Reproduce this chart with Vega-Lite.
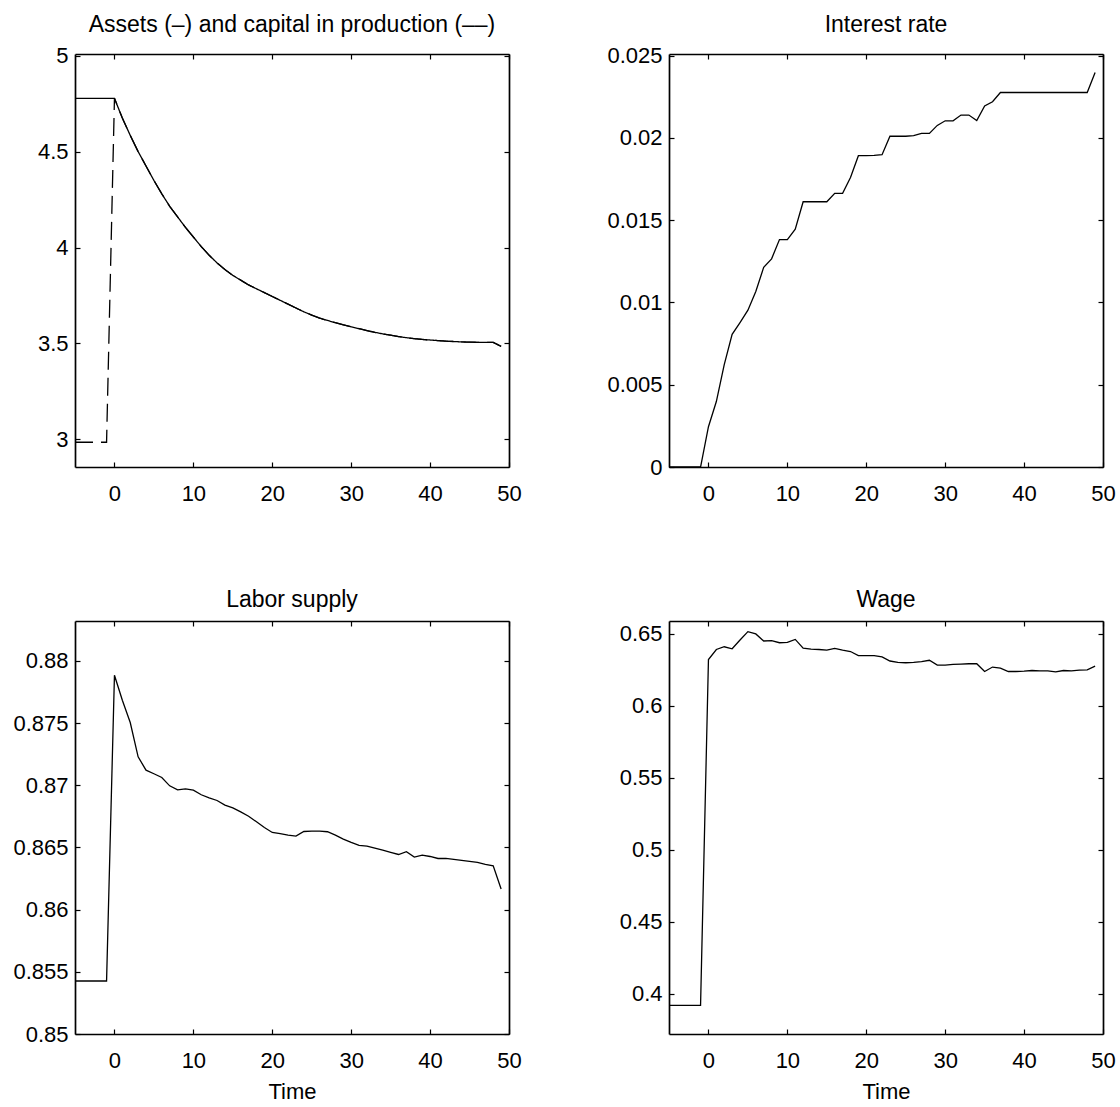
{
  "$schema": "https://vega.github.io/schema/vega-lite/v6.json",
  "autosize": {"type": "pad"},
  "padding": {"left": 12, "top": 13, "right": 5, "bottom": 5},
  "background": "white",
  "datasets": {
    "assets": [
      {"t": -5, "s": "Assets", "v": 4.778}, {"t": -4, "s": "Assets", "v": 4.778}, {"t": -3, "s": "Assets", "v": 4.778}, {"t": -2, "s": "Assets", "v": 4.778}, {"t": -1, "s": "Assets", "v": 4.778},
      {"t": 0, "s": "Assets", "v": 4.778}, {"t": 1, "s": "Assets", "v": 4.675}, {"t": 2, "s": "Assets", "v": 4.585}, {"t": 3, "s": "Assets", "v": 4.5}, {"t": 4, "s": "Assets", "v": 4.425},
      {"t": 5, "s": "Assets", "v": 4.35}, {"t": 6, "s": "Assets", "v": 4.28}, {"t": 7, "s": "Assets", "v": 4.215}, {"t": 8, "s": "Assets", "v": 4.16}, {"t": 9, "s": "Assets", "v": 4.105},
      {"t": 10, "s": "Assets", "v": 4.055}, {"t": 11, "s": "Assets", "v": 4.005}, {"t": 12, "s": "Assets", "v": 3.96}, {"t": 13, "s": "Assets", "v": 3.92}, {"t": 14, "s": "Assets", "v": 3.885},
      {"t": 15, "s": "Assets", "v": 3.855}, {"t": 16, "s": "Assets", "v": 3.83}, {"t": 17, "s": "Assets", "v": 3.805}, {"t": 18, "s": "Assets", "v": 3.785}, {"t": 19, "s": "Assets", "v": 3.765},
      {"t": 20, "s": "Assets", "v": 3.745}, {"t": 21, "s": "Assets", "v": 3.725}, {"t": 22, "s": "Assets", "v": 3.705}, {"t": 23, "s": "Assets", "v": 3.685}, {"t": 24, "s": "Assets", "v": 3.665},
      {"t": 25, "s": "Assets", "v": 3.648}, {"t": 26, "s": "Assets", "v": 3.632}, {"t": 27, "s": "Assets", "v": 3.62}, {"t": 28, "s": "Assets", "v": 3.608}, {"t": 29, "s": "Assets", "v": 3.597},
      {"t": 30, "s": "Assets", "v": 3.587}, {"t": 31, "s": "Assets", "v": 3.577}, {"t": 32, "s": "Assets", "v": 3.567}, {"t": 33, "s": "Assets", "v": 3.558}, {"t": 34, "s": "Assets", "v": 3.55},
      {"t": 35, "s": "Assets", "v": 3.543}, {"t": 36, "s": "Assets", "v": 3.536}, {"t": 37, "s": "Assets", "v": 3.53}, {"t": 38, "s": "Assets", "v": 3.525}, {"t": 39, "s": "Assets", "v": 3.521},
      {"t": 40, "s": "Assets", "v": 3.518}, {"t": 41, "s": "Assets", "v": 3.515}, {"t": 42, "s": "Assets", "v": 3.512}, {"t": 43, "s": "Assets", "v": 3.51}, {"t": 44, "s": "Assets", "v": 3.508},
      {"t": 45, "s": "Assets", "v": 3.507}, {"t": 46, "s": "Assets", "v": 3.506}, {"t": 47, "s": "Assets", "v": 3.506}, {"t": 48, "s": "Assets", "v": 3.506}, {"t": 49, "s": "Assets", "v": 3.485},
      {"t": -5, "s": "Capital", "v": 2.985}, {"t": -4, "s": "Capital", "v": 2.985}, {"t": -3, "s": "Capital", "v": 2.985}, {"t": -2, "s": "Capital", "v": 2.985}, {"t": -1, "s": "Capital", "v": 2.985},
      {"t": 0, "s": "Capital", "v": 4.778}, {"t": 1, "s": "Capital", "v": 4.675}, {"t": 2, "s": "Capital", "v": 4.585}, {"t": 3, "s": "Capital", "v": 4.5}, {"t": 4, "s": "Capital", "v": 4.425},
      {"t": 5, "s": "Capital", "v": 4.35}, {"t": 6, "s": "Capital", "v": 4.28}, {"t": 7, "s": "Capital", "v": 4.215}, {"t": 8, "s": "Capital", "v": 4.16}, {"t": 9, "s": "Capital", "v": 4.105},
      {"t": 10, "s": "Capital", "v": 4.055}, {"t": 11, "s": "Capital", "v": 4.005}, {"t": 12, "s": "Capital", "v": 3.96}, {"t": 13, "s": "Capital", "v": 3.92}, {"t": 14, "s": "Capital", "v": 3.885},
      {"t": 15, "s": "Capital", "v": 3.855}, {"t": 16, "s": "Capital", "v": 3.83}, {"t": 17, "s": "Capital", "v": 3.805}, {"t": 18, "s": "Capital", "v": 3.785}, {"t": 19, "s": "Capital", "v": 3.765},
      {"t": 20, "s": "Capital", "v": 3.745}, {"t": 21, "s": "Capital", "v": 3.725}, {"t": 22, "s": "Capital", "v": 3.705}, {"t": 23, "s": "Capital", "v": 3.685}, {"t": 24, "s": "Capital", "v": 3.665},
      {"t": 25, "s": "Capital", "v": 3.648}, {"t": 26, "s": "Capital", "v": 3.632}, {"t": 27, "s": "Capital", "v": 3.62}, {"t": 28, "s": "Capital", "v": 3.608}, {"t": 29, "s": "Capital", "v": 3.597},
      {"t": 30, "s": "Capital", "v": 3.587}, {"t": 31, "s": "Capital", "v": 3.577}, {"t": 32, "s": "Capital", "v": 3.567}, {"t": 33, "s": "Capital", "v": 3.558}, {"t": 34, "s": "Capital", "v": 3.55},
      {"t": 35, "s": "Capital", "v": 3.543}, {"t": 36, "s": "Capital", "v": 3.536}, {"t": 37, "s": "Capital", "v": 3.53}, {"t": 38, "s": "Capital", "v": 3.525}, {"t": 39, "s": "Capital", "v": 3.521},
      {"t": 40, "s": "Capital", "v": 3.518}, {"t": 41, "s": "Capital", "v": 3.515}, {"t": 42, "s": "Capital", "v": 3.512}, {"t": 43, "s": "Capital", "v": 3.51}, {"t": 44, "s": "Capital", "v": 3.508},
      {"t": 45, "s": "Capital", "v": 3.507}, {"t": 46, "s": "Capital", "v": 3.506}, {"t": 47, "s": "Capital", "v": 3.506}, {"t": 48, "s": "Capital", "v": 3.506}, {"t": 49, "s": "Capital", "v": 3.485}
    ],
    "interest": [
      {"t": -5, "v": 0}, {"t": -4, "v": 0}, {"t": -3, "v": 0}, {"t": -2, "v": 0}, {"t": -1, "v": 0},
      {"t": 0, "v": 0.00245}, {"t": 1, "v": 0.00398}, {"t": 2, "v": 0.00622}, {"t": 3, "v": 0.00806}, {"t": 4, "v": 0.00878},
      {"t": 5, "v": 0.00953}, {"t": 6, "v": 0.01067}, {"t": 7, "v": 0.01214}, {"t": 8, "v": 0.01265}, {"t": 9, "v": 0.01382},
      {"t": 10, "v": 0.01382}, {"t": 11, "v": 0.01445}, {"t": 12, "v": 0.01612}, {"t": 13, "v": 0.01612}, {"t": 14, "v": 0.01612},
      {"t": 15, "v": 0.01612}, {"t": 16, "v": 0.01663}, {"t": 17, "v": 0.01663}, {"t": 18, "v": 0.01759}, {"t": 19, "v": 0.01892},
      {"t": 20, "v": 0.01892}, {"t": 21, "v": 0.01894}, {"t": 22, "v": 0.01898}, {"t": 23, "v": 0.0201}, {"t": 24, "v": 0.0201},
      {"t": 25, "v": 0.0201}, {"t": 26, "v": 0.02014}, {"t": 27, "v": 0.02027}, {"t": 28, "v": 0.02027}, {"t": 29, "v": 0.02076},
      {"t": 30, "v": 0.02104}, {"t": 31, "v": 0.02104}, {"t": 32, "v": 0.02139}, {"t": 33, "v": 0.02139}, {"t": 34, "v": 0.02106},
      {"t": 35, "v": 0.02194}, {"t": 36, "v": 0.0222}, {"t": 37, "v": 0.02276}, {"t": 38, "v": 0.02276}, {"t": 39, "v": 0.02276},
      {"t": 40, "v": 0.02276}, {"t": 41, "v": 0.02276}, {"t": 42, "v": 0.02276}, {"t": 43, "v": 0.02276}, {"t": 44, "v": 0.02276},
      {"t": 45, "v": 0.02276}, {"t": 46, "v": 0.02276}, {"t": 47, "v": 0.02276}, {"t": 48, "v": 0.02276}, {"t": 49, "v": 0.02398}
    ],
    "labor": [
      {"t": -5, "v": 0.85426}, {"t": -4, "v": 0.85426}, {"t": -3, "v": 0.85426}, {"t": -2, "v": 0.85426}, {"t": -1, "v": 0.85426},
      {"t": 0, "v": 0.87884}, {"t": 1, "v": 0.87683}, {"t": 2, "v": 0.87504}, {"t": 3, "v": 0.87228}, {"t": 4, "v": 0.87121},
      {"t": 5, "v": 0.87092}, {"t": 6, "v": 0.87062}, {"t": 7, "v": 0.86995}, {"t": 8, "v": 0.86963}, {"t": 9, "v": 0.86971},
      {"t": 10, "v": 0.8696}, {"t": 11, "v": 0.86923}, {"t": 12, "v": 0.86899}, {"t": 13, "v": 0.86877}, {"t": 14, "v": 0.8684},
      {"t": 15, "v": 0.86818}, {"t": 16, "v": 0.86786}, {"t": 17, "v": 0.86751}, {"t": 18, "v": 0.86706}, {"t": 19, "v": 0.8666},
      {"t": 20, "v": 0.8662}, {"t": 21, "v": 0.8661}, {"t": 22, "v": 0.86599}, {"t": 23, "v": 0.86591}, {"t": 24, "v": 0.86628},
      {"t": 25, "v": 0.86631}, {"t": 26, "v": 0.86631}, {"t": 27, "v": 0.86626}, {"t": 28, "v": 0.86599}, {"t": 29, "v": 0.86567},
      {"t": 30, "v": 0.8654}, {"t": 31, "v": 0.86516}, {"t": 32, "v": 0.86511}, {"t": 33, "v": 0.86494}, {"t": 34, "v": 0.86478},
      {"t": 35, "v": 0.8646}, {"t": 36, "v": 0.86443}, {"t": 37, "v": 0.86465}, {"t": 38, "v": 0.86422}, {"t": 39, "v": 0.86438},
      {"t": 40, "v": 0.86427}, {"t": 41, "v": 0.86411}, {"t": 42, "v": 0.86411}, {"t": 43, "v": 0.86403}, {"t": 44, "v": 0.86395},
      {"t": 45, "v": 0.86387}, {"t": 46, "v": 0.86379}, {"t": 47, "v": 0.86363}, {"t": 48, "v": 0.86352}, {"t": 49, "v": 0.86165}
    ],
    "wage": [
      {"t": -5, "v": 0.3919}, {"t": -4, "v": 0.3919}, {"t": -3, "v": 0.3919}, {"t": -2, "v": 0.3919}, {"t": -1, "v": 0.3919},
      {"t": 0, "v": 0.6322}, {"t": 1, "v": 0.6392}, {"t": 2, "v": 0.6411}, {"t": 3, "v": 0.6397}, {"t": 4, "v": 0.6458},
      {"t": 5, "v": 0.6516}, {"t": 6, "v": 0.65}, {"t": 7, "v": 0.6451}, {"t": 8, "v": 0.6453}, {"t": 9, "v": 0.6439},
      {"t": 10, "v": 0.6441}, {"t": 11, "v": 0.6462}, {"t": 12, "v": 0.6401}, {"t": 13, "v": 0.6394}, {"t": 14, "v": 0.6392},
      {"t": 15, "v": 0.6387}, {"t": 16, "v": 0.6399}, {"t": 17, "v": 0.6387}, {"t": 18, "v": 0.6378}, {"t": 19, "v": 0.635},
      {"t": 20, "v": 0.635}, {"t": 21, "v": 0.635}, {"t": 22, "v": 0.634}, {"t": 23, "v": 0.6312}, {"t": 24, "v": 0.6303},
      {"t": 25, "v": 0.63}, {"t": 26, "v": 0.6303}, {"t": 27, "v": 0.6308}, {"t": 28, "v": 0.6317}, {"t": 29, "v": 0.6284},
      {"t": 30, "v": 0.6284}, {"t": 31, "v": 0.6289}, {"t": 32, "v": 0.6291}, {"t": 33, "v": 0.6293}, {"t": 34, "v": 0.6293},
      {"t": 35, "v": 0.6239}, {"t": 36, "v": 0.627}, {"t": 37, "v": 0.6263}, {"t": 38, "v": 0.6239}, {"t": 39, "v": 0.6239},
      {"t": 40, "v": 0.6241}, {"t": 41, "v": 0.6246}, {"t": 42, "v": 0.6244}, {"t": 43, "v": 0.6244}, {"t": 44, "v": 0.6237},
      {"t": 45, "v": 0.6246}, {"t": 46, "v": 0.6244}, {"t": 47, "v": 0.6249}, {"t": 48, "v": 0.6251}, {"t": 49, "v": 0.6277}
    ]
  },
  "columns": 2,
  "spacing": {"row": 154, "column": 160},
  "bounds": "flush",
  "concat": [
    {
      "title": "Assets (–) and capital in production (––)",
      "width": 434, "height": 413,
      "data": {"name": "assets"},
      "layer": [
        {
          "mark": {"type": "line", "color": "black", "strokeWidth": 1.3},
          "encoding": {
            "x": {"field": "t", "type": "quantitative", "scale": {"domain": [-5, 50], "nice": false, "zero": false}, "axis": {"orient": "bottom", "values": [0, 10, 20, 30, 40, 50]}},
            "y": {"field": "v", "type": "quantitative", "scale": {"domain": [2.856, 5.009], "nice": false, "zero": false}, "axis": {"orient": "left", "values": [3, 3.5, 4, 4.5, 5]}},
            "strokeDash": {"field": "s", "type": "nominal", "scale": {"domain": ["Assets", "Capital"], "range": [[1, 0], [18, 8]]}, "legend": null}
          }
        },
        {
          "mark": {"type": "line", "opacity": 0},
          "encoding": {
            "x": {"field": "t", "type": "quantitative", "axis": {"orient": "top", "labels": false, "values": [0, 10, 20, 30, 40, 50]}},
            "y": {"field": "v", "type": "quantitative", "axis": {"orient": "right", "labels": false, "values": [3, 3.5, 4, 4.5, 5]}},
            "detail": {"field": "s", "type": "nominal"}
          }
        }
      ],
      "resolve": {"axis": {"x": "independent", "y": "independent"}}
    },
    {
      "title": "Interest rate",
      "width": 434, "height": 413,
      "data": {"name": "interest"},
      "layer": [
        {
          "mark": {"type": "line", "color": "black", "strokeWidth": 1.3},
          "encoding": {
            "x": {"field": "t", "type": "quantitative", "scale": {"domain": [-5, 50], "nice": false, "zero": false}, "axis": {"orient": "bottom", "values": [0, 10, 20, 30, 40, 50]}},
            "y": {"field": "v", "type": "quantitative", "scale": {"domain": [0, 0.0251], "nice": false, "zero": false}, "axis": {"orient": "left", "values": [0, 0.005, 0.01, 0.015, 0.02, 0.025]}}
          }
        },
        {
          "mark": {"type": "line", "opacity": 0},
          "encoding": {
            "x": {"field": "t", "type": "quantitative", "axis": {"orient": "top", "labels": false, "values": [0, 10, 20, 30, 40, 50]}},
            "y": {"field": "v", "type": "quantitative", "axis": {"orient": "right", "labels": false, "values": [0, 0.005, 0.01, 0.015, 0.02, 0.025]}}
          }
        }
      ],
      "resolve": {"axis": {"x": "independent", "y": "independent"}}
    },
    {
      "title": "Labor supply",
      "width": 434, "height": 413,
      "data": {"name": "labor"},
      "layer": [
        {
          "mark": {"type": "line", "color": "black", "strokeWidth": 1.3},
          "encoding": {
            "x": {"field": "t", "type": "quantitative", "scale": {"domain": [-5, 50], "nice": false, "zero": false}, "axis": {"orient": "bottom", "values": [0, 10, 20, 30, 40, 50], "title": "Time"}},
            "y": {"field": "v", "type": "quantitative", "scale": {"domain": [0.85, 0.8832], "nice": false, "zero": false}, "axis": {"orient": "left", "values": [0.85, 0.855, 0.86, 0.865, 0.87, 0.875, 0.88]}}
          }
        },
        {
          "mark": {"type": "line", "opacity": 0},
          "encoding": {
            "x": {"field": "t", "type": "quantitative", "axis": {"orient": "top", "labels": false, "values": [0, 10, 20, 30, 40, 50]}},
            "y": {"field": "v", "type": "quantitative", "axis": {"orient": "right", "labels": false, "values": [0.85, 0.855, 0.86, 0.865, 0.87, 0.875, 0.88]}}
          }
        }
      ],
      "resolve": {"axis": {"x": "independent", "y": "independent"}}
    },
    {
      "title": "Wage",
      "width": 434, "height": 413,
      "data": {"name": "wage"},
      "layer": [
        {
          "mark": {"type": "line", "color": "black", "strokeWidth": 1.3},
          "encoding": {
            "x": {"field": "t", "type": "quantitative", "scale": {"domain": [-5, 50], "nice": false, "zero": false}, "axis": {"orient": "bottom", "values": [0, 10, 20, 30, 40, 50], "title": "Time"}},
            "y": {"field": "v", "type": "quantitative", "scale": {"domain": [0.372, 0.659], "nice": false, "zero": false}, "axis": {"orient": "left", "values": [0.4, 0.45, 0.5, 0.55, 0.6, 0.65]}}
          }
        },
        {
          "mark": {"type": "line", "opacity": 0},
          "encoding": {
            "x": {"field": "t", "type": "quantitative", "axis": {"orient": "top", "labels": false, "values": [0, 10, 20, 30, 40, 50]}},
            "y": {"field": "v", "type": "quantitative", "axis": {"orient": "right", "labels": false, "values": [0.4, 0.45, 0.5, 0.55, 0.6, 0.65]}}
          }
        }
      ],
      "resolve": {"axis": {"x": "independent", "y": "independent"}}
    }
  ],
  "config": {
    "font": "Liberation Sans",
    "view": {"stroke": null},
    "title": {"fontSize": 23, "fontWeight": "normal", "color": "black", "offset": 8, "baseline": "alphabetic", "anchor": "middle", "font": "Liberation Sans"},
    "axis": {
      "title": null,
      "grid": false,
      "domainColor": "black",
      "domainWidth": 1.7,
      "tickColor": "black",
      "tickWidth": 1.2,
      "tickSize": -5,
      "labelColor": "black",
      "labelFont": "Liberation Sans",
      "labelFontSize": 22,
      "labelFlush": false,
      "labelOverlap": false,
      "format": "~r",
      "titleFont": "Liberation Sans",
      "titleFontSize": 22,
      "titleFontWeight": "normal",
      "titleColor": "black",
      "titlePadding": 10
    },
    "axisX": {"labelPadding": 21},
    "axisY": {"labelPadding": 12}
  }
}
